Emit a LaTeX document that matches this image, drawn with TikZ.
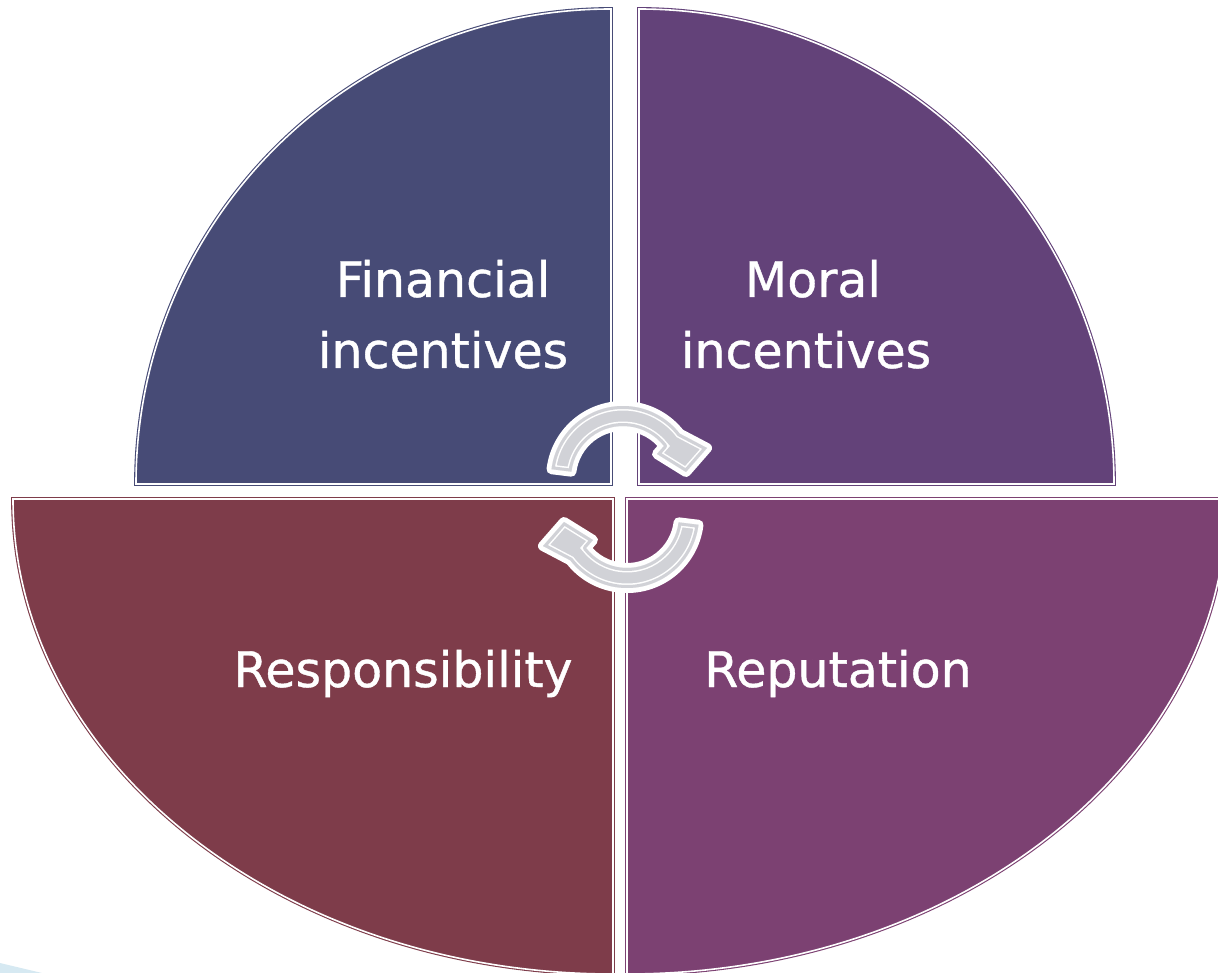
\documentclass[tikz,border=0pt]{standalone}
\usepackage{fontspec}
\setmainfont{DejaVu Sans}
\newfontfamily\lblfont[FakeBold=0.8]{DejaVu Sans}
\definecolor{cTL}{RGB}{71,75,118}
\definecolor{cTR}{RGB}{99,66,121}
\definecolor{cBL}{RGB}{126,60,74}
\definecolor{cBR}{RGB}{124,65,114}
\definecolor{agray}{RGB}{209,210,215}
\definecolor{lblue}{RGB}{214,233,242}
\def\arrowshape{(187:72) arc[start angle=187,end angle=322,radius=72] -- (84,-30) -- (63,-6) -- (34,-24) -- (322:52) arc[start angle=322,end angle=187,radius=52] -- cycle}
\tikzset{
  quad/.style={fill=#1, draw=#1, double=white, double distance=1.6pt, line width=1.1pt},
  lbl/.style={text=white, font=\lblfont\fontsize{49}{60}\selectfont, anchor=base, inner sep=0pt},
  circarrow/.pic={
    \draw[white, line width=10pt, line join=round] \arrowshape;
    \fill[agray] \arrowshape;
    \begin{scope}
      \clip \arrowshape;
      \draw[white, line width=9pt] \arrowshape;
      \draw[agray, line width=6pt, line join=round] \arrowshape;
    \end{scope}
  }
}
\begin{document}
\begin{tikzpicture}[x=1pt,y=-1pt]
\useasboundingbox (0,0) rectangle (1218,973);
\fill[lblue] (0,963) -- (42,973) -- (0,973) -- cycle;
% quadrants
\path[quad=cTL] (611,484) -- (136,484) arc[start angle=180,end angle=270,radius=475] -- cycle;
\path[quad=cTR] (639,484) -- (639,9) arc[start angle=270,end angle=360,radius=475] -- cycle;
\path[quad=cBL] (613,499) -- (613,974) arc[start angle=90,end angle=180,x radius=600,y radius=475] -- cycle;
\path[quad=cBR] (627,499) -- (1227,499) arc[start angle=0,end angle=90,x radius=600,y radius=475] -- cycle;
% labels
\node[lbl] (fin1) at (443,297) {Financial};
\node[lbl] (fin2) at (443,368) {incentives};
\node[lbl] (mor1) at (813,297) {Moral};
\node[lbl] (mor2) at (806,368) {incentives};
\node[lbl] (resp) at (403,687) {Responsibility};
\node[lbl] (rep) at (838,687) {Reputation};
% circular arrows
\pic (arrTop) at (623,478) {circarrow};
\pic[rotate=180] (arrBot) at (627,516) {circarrow};
\end{tikzpicture}
\end{document}
